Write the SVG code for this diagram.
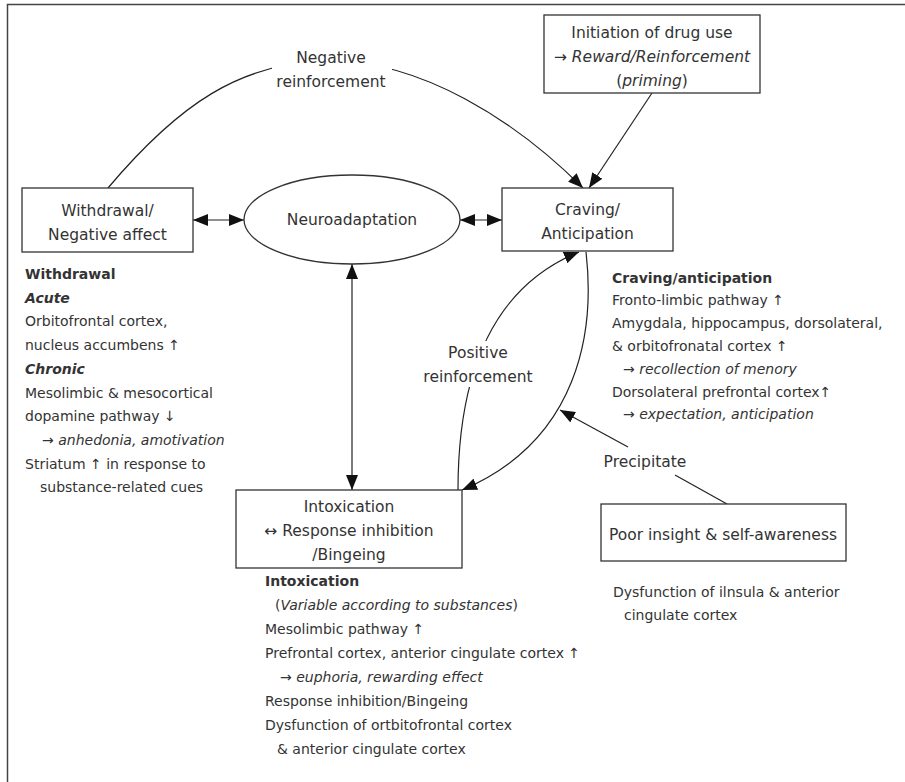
<svg xmlns="http://www.w3.org/2000/svg" width="905" height="782" viewBox="0 0 905 782">
<style>
text{font-family:"DejaVu Sans","Liberation Sans",sans-serif;fill:#333}
.n{font-size:15.5px;text-anchor:middle}
.t{font-size:14px}
.h{font-weight:bold}
.i{font-style:italic}
.box{fill:#fff;stroke:#333;stroke-width:1.3}
.c{fill:none;stroke:#222;stroke-width:1.2}
.a{marker-end:url(#ah)}
.d{marker-start:url(#ah);marker-end:url(#ah)}
.gap{fill:#fff}
</style>
<defs>
<marker id="ah" markerUnits="userSpaceOnUse" markerWidth="15" markerHeight="12" refX="15" refY="6" orient="auto-start-reverse" viewBox="0 0 15 12"><path d="M0,0 L15,6 L0,12 z" fill="#111"/></marker>
</defs>
<rect width="905" height="782" fill="#fff"/>
<path d="M905,4.5 H7.5 V782" fill="none" stroke="#444" stroke-width="1.5"/>

<g id="connectors">
<path class="c a" d="M108,188 C178,105 241,61 331,61 C421,61 515,120 583,188"/>
<path class="c a" d="M652,93 L589,188"/>
<path class="c d" d="M193,220 H244"/>
<path class="c d" d="M460,220 H502"/>
<path class="c d" d="M352,264 V490"/>
<path class="c a" d="M458,490 C458,355 505,282 579,252"/>
<path class="c a" d="M586,252 C595,330 580,440 462,490"/>
<path class="c a" d="M628,447 L560,410"/>
<path class="c" d="M675,475 L727,504"/>
<rect class="gap" x="272" y="46" width="120" height="46"/>
<text class="n" x="331" y="63">Negative</text>
<text class="n" x="331" y="87">reinforcement</text>
<rect class="gap" x="423" y="341" width="110" height="46"/>
<text class="n" x="478" y="358">Positive</text>
<text class="n" x="478" y="382">reinforcement</text>
<text class="n" x="645" y="467">Precipitate</text>
</g>

<g id="initiation">
<rect class="box" x="544" y="15" width="216" height="78"/>
<text class="n" x="652" y="37.5">Initiation of drug use</text>
<text class="n" x="652" y="62">→ <tspan class="i">Reward/Reinforcement</tspan></text>
<text class="n" x="652" y="86">(<tspan class="i">priming</tspan>)</text>
</g>

<g id="withdrawal">
<rect class="box" x="22" y="188" width="171" height="64"/>
<text class="n" x="107.5" y="216">Withdrawal/</text>
<text class="n" x="107.5" y="239.5">Negative affect</text>
</g>

<g id="neuroadaptation">
<ellipse cx="352" cy="219.5" rx="108" ry="44.5" fill="#fff" stroke="#333" stroke-width="1.3"/>
<text class="n" x="352" y="225">Neuroadaptation</text>
</g>

<g id="craving">
<rect class="box" x="502" y="188" width="171" height="63"/>
<text class="n" x="587.5" y="215">Craving/</text>
<text class="n" x="587.5" y="239">Anticipation</text>
</g>

<g id="intoxication">
<rect class="box" x="236" y="490" width="226" height="78"/>
<text class="n" x="349" y="512">Intoxication</text>
<text class="n" x="349" y="536">↔ Response inhibition</text>
<text class="n" x="349" y="560">/Bingeing</text>
</g>

<g id="poor-insight">
<rect class="box" x="601" y="504" width="245" height="57"/>
<text class="n" x="723" y="540">Poor insight &amp; self-awareness</text>
</g>

<g id="withdrawal-notes" class="t">
<text x="25" y="279" class="t h">Withdrawal</text>
<text x="25" y="302.7" class="t h i">Acute</text>
<text x="25" y="326.4" class="t">Orbitofrontal cortex,</text>
<text x="25" y="350.1" class="t">nucleus accumbens ↑</text>
<text x="25" y="373.8" class="t h i">Chronic</text>
<text x="25" y="397.5" class="t">Mesolimbic &amp; mesocortical</text>
<text x="25" y="421.2" class="t">dopamine pathway ↓</text>
<text x="42" y="444.9" class="t">→ <tspan class="i">anhedonia, amotivation</tspan></text>
<text x="25" y="468.6" class="t">Striatum ↑ in response to</text>
<text x="40" y="492.3" class="t">substance-related cues</text>
</g>

<g id="craving-notes">
<text x="612" y="282.5" class="t h">Craving/anticipation</text>
<text x="612" y="305.3" class="t">Fronto-limbic pathway ↑</text>
<text x="612" y="328.1" class="t">Amygdala, hippocampus, dorsolateral,</text>
<text x="612" y="350.9" class="t">&amp; orbitofronatal cortex ↑</text>
<text x="623" y="373.7" class="t">→ <tspan class="i">recollection of menory</tspan></text>
<text x="612" y="396.5" class="t">Dorsolateral prefrontal cortex↑</text>
<text x="623" y="419.3" class="t">→ <tspan class="i">expectation, anticipation</tspan></text>
</g>

<g id="intoxication-notes">
<text x="265" y="586" class="t h">Intoxication</text>
<text x="275" y="610" class="t">(<tspan class="i">Variable according to substances</tspan>)</text>
<text x="265" y="634" class="t">Mesolimbic pathway ↑</text>
<text x="265" y="658" class="t">Prefrontal cortex, anterior cingulate cortex ↑</text>
<text x="280" y="682" class="t">→ <tspan class="i">euphoria, rewarding effect</tspan></text>
<text x="265" y="706" class="t">Response inhibition/Bingeing</text>
<text x="265" y="730" class="t">Dysfunction of ortbitofrontal cortex</text>
<text x="277" y="754" class="t">&amp; anterior cingulate cortex</text>
</g>

<g id="insight-notes">
<text x="613" y="597" class="t">Dysfunction of ilnsula &amp; anterior</text>
<text x="624" y="620" class="t">cingulate cortex</text>
</g>
</svg>
